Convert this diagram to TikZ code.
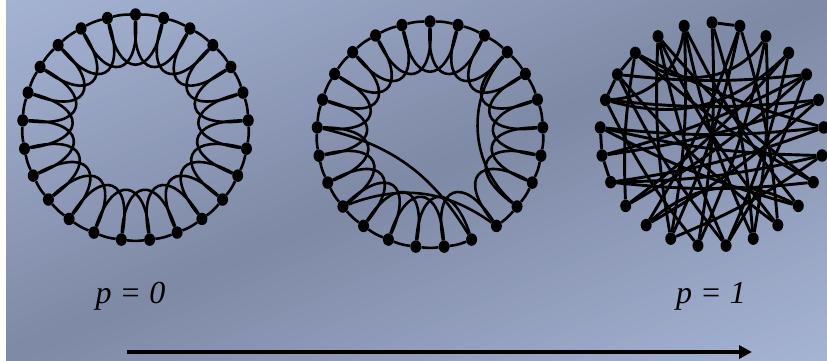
\documentclass[tikz,border=0pt]{standalone}
\usepackage{fontspec}
\setmainfont{Liberation Serif}
\usetikzlibrary{calc,arrows.meta,shapes.geometric}
\definecolor{bgL}{RGB}{166,180,212}
\definecolor{bgD}{RGB}{126,137,165}
\begin{document}
\begin{tikzpicture}[x=1pt,y=-1pt,
  dot/.style={ellipse,fill=black,draw=none,minimum width=11pt,minimum height=12.5pt,inner sep=0pt},
  edge/.style={line width=2.6pt,black},
  rnd/.style={line width=2.9pt,black},
  lbl/.style={font=\fontsize{32}{36}\selectfont\itshape,inner sep=0pt,anchor=base},
  axisarrow/.style={line width=4pt,black,-{Triangle[length=13pt,width=13pt]}}
  ]
\useasboundingbox (0,0) rectangle (827,360);
\fill[white] (0,0) rectangle (827,360);
% background gradient
\begin{scope}
\clip (6,0) rectangle (827,360);
\foreach \j in {0,...,65}{
  \pgfmathsetmacro\sa{10*\j}
  \pgfmathsetmacro\sb{10*\j+11}
  \pgfmathsetmacro\pc{min(100,abs(10*\j+5-330)/330*100)}
  \fill[bgL!\pc!bgD] ({\sa*0.3991-200*0.9169},{\sa*0.9169+200*0.3991}) -- ({\sa*0.3991+800*0.9169},{\sa*0.9169-800*0.3991}) -- ({\sb*0.3991+800*0.9169},{\sb*0.9169-800*0.3991}) -- ({\sb*0.3991-200*0.9169},{\sb*0.9169+200*0.3991}) -- cycle;
}
\end{scope}
% ring 1 (p = 0)
\foreach \k in {0,...,24}{
  \node[dot] (a\k) at ({135.5+113*cos(90-14.4*\k)},{127.5-113*sin(90-14.4*\k)}) {};
}
\foreach \k in {0,...,24}{
  \pgfmathtruncatemacro\m{mod(\k+1,25)}
  \pgfmathtruncatemacro\n{mod(\k+2,25)}
  \pgfmathsetmacro\ta{90-14.4*\k+4}
  \pgfmathsetmacro\tb{90-14.4*\k-28.8-4}
  \draw[edge] (a\k) to[bend left=7] (a\m);
  \draw[edge] (a\k) .. controls ({135.5+52*cos(\ta)},{127.5-52*sin(\ta)}) and ({135.5+52*cos(\tb)},{127.5-52*sin(\tb)}) .. (a\n);
}
% ring 2 (small world)
\foreach \k in {0,...,24}{
  \node[dot] (b\k) at ({430+113*cos(90-14.4*\k)},{134.5-113*sin(90-14.4*\k)}) {};
}
\foreach \k in {0,...,24}{
  \pgfmathtruncatemacro\m{mod(\k+1,25)}
  \pgfmathtruncatemacro\n{mod(\k+2,25)}
  \pgfmathsetmacro\ta{90-14.4*\k+4}
  \pgfmathsetmacro\tb{90-14.4*\k-28.8-4}
  \ifnum\k=10\else\draw[edge] (b\k) to[bend left=7] (b\m);\fi
  \ifnum\k=9\else\draw[edge] (b\k) .. controls ({430+52*cos(\ta)},{134.5-52*sin(\ta)}) and ({430+52*cos(\tb)},{134.5-52*sin(\tb)}) .. (b\n);\fi
}
\draw[edge] (b19) to[bend left=23] (b11);
\draw[edge] (b16) to[bend left=28] (b10);
\draw[edge] (b3) to[bend right=45] (b9);
% ring 3 (random)
\foreach \k in {0,...,24}{
  \node[dot] (c\k) at ({712+112*cos(90-14.4*\k)},{134.5-112*sin(90-14.4*\k)}) {};
}
\foreach \i/\j in {0/1,17/18,18/19,20/21,21/22}{
  \draw[rnd] (c\i) -- (c\j);
}
\foreach \i/\j in {0/13,0/11,1/15,1/14,1/10,2/11,2/13,3/16,4/18,4/16,4/12,4/21,5/20,5/18,5/15,6/19,6/17,6/22,7/19,7/17,7/14,8/22,8/17,8/23,9/19,9/24,10/21,10/23,11/24,12/21,12/23,13/20,14/23,16/22,3/12,24/14}{
  \draw[rnd] (c\i) to[bend left=6] (c\j);
}
\draw[rnd] (c24) to[bend left=40] (c20);
\draw[rnd] (c3) to[bend left=30] (c20);
\draw[rnd] (c2) to[bend left=50] (c22);
\draw[rnd] (c9) to[bend right=35] (c15);
% labels
\node[lbl] (p0) at (130.5,303) {p = 0};
\node[lbl] (p1) at (711,303) {p = 1};
% arrow
\coordinate (as) at (127,352);
\coordinate (ae) at (752,352);
\draw[axisarrow] (as) -- (ae);
\end{tikzpicture}
\end{document}
